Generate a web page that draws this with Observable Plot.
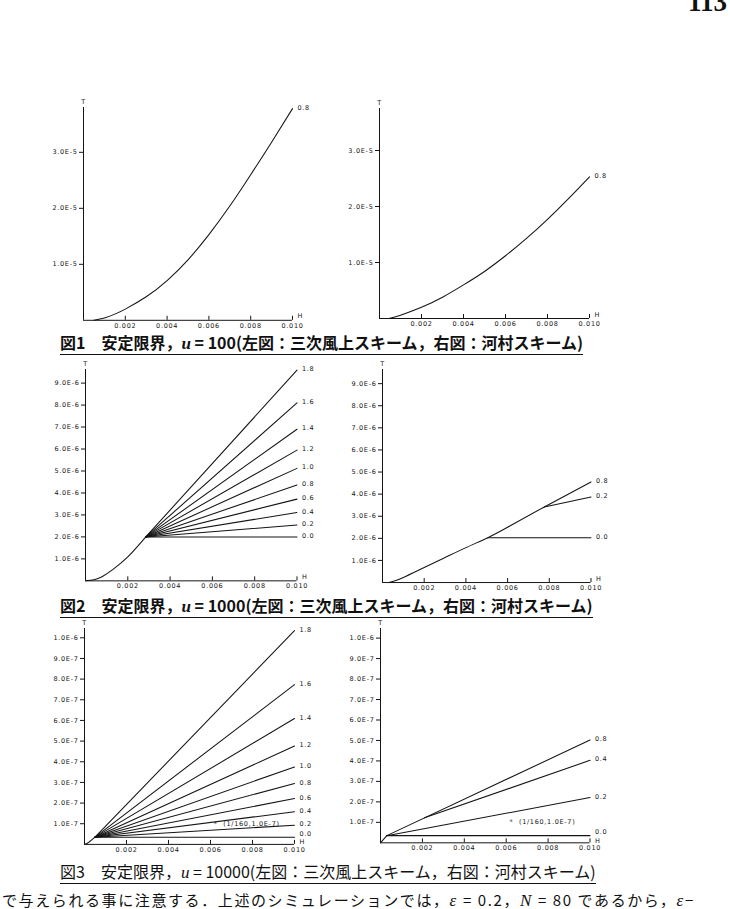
<!DOCTYPE html>
<html>
<head>
<meta charset="utf-8">
<script src="https://cdn.jsdelivr.net/npm/d3@7"></script>
<script src="https://cdn.jsdelivr.net/npm/@observablehq/plot@0.6"></script>
<style>
  html, body { margin: 0; padding: 0; background: #fff; }
  #page { position: relative; width: 730px; height: 909px; overflow: hidden; background: #fff; }
  .cap { position: absolute; left: 60px; white-space: nowrap; font-family: "Noto Sans CJK JP", sans-serif;
         font-size: 16px; line-height: 18px; color: #111; border-bottom: 1.6px solid #111; padding-bottom: 1px; }
  .cap.b { font-weight: 700; }
  .cap i, .body i { font-family: "Liberation Serif", serif; font-style: italic; font-size: 17px; }
  .body { position: absolute; left: 2px; top: 891px; white-space: nowrap; font-family: "Noto Sans CJK JP", sans-serif;
          font-size: 15px; line-height: 18px; color: #111; letter-spacing: 1.6px; }
  .pageno { position: absolute; left: 688px; top: -13px; font-family: "Liberation Serif", serif; font-weight: 700;
            font-size: 27px; line-height: 30px; color: #111; }
</style>
</head>
<body>
<div id="page">
  <div class="pageno">113</div>
  <div class="cap b" id="cap1" style="top:333px">図1　安定限界，<i>u</i> = 100(左図：三次風上スキーム，右図：河村スキーム)</div>
  <div class="cap b" id="cap2" style="top:596px">図2　安定限界，<i>u</i> = 1000(左図：三次風上スキーム，右図：河村スキーム)</div>
  <div class="cap" id="cap3" style="top:862px">図3　安定限界，<i>u</i> = 10000(左図：三次風上スキーム，右図：河村スキーム)</div>
  <div class="body">で与えられる事に注意する．上述のシミュレーションでは，<i>ε</i> = 0.2，<i>N</i> = 80 であるから，<i>ε</i>−</div>
</div>
<script>
// ---- axis ticks ----
const xTicks = [0.002, 0.004, 0.006, 0.008, 0.010];
const xTickLabels = ["0.002", "0.004", "0.006", "0.008", "0.010"];
const yTicksFig1 = [1e-5, 2e-5, 3e-5];
const yTickLabelsFig1 = ["1.0E-5", "2.0E-5", "3.0E-5"];
const yTicksFig2 = [1e-6, 2e-6, 3e-6, 4e-6, 5e-6, 6e-6, 7e-6, 8e-6, 9e-6];
const yTickLabelsFig2 = ["1.0E-6", "2.0E-6", "3.0E-6", "4.0E-6", "5.0E-6", "6.0E-6", "7.0E-6", "8.0E-6", "9.0E-6"];
const yTicksFig3 = [1e-7, 2e-7, 3e-7, 4e-7, 5e-7, 6e-7, 7e-7, 8e-7, 9e-7, 1e-6];
const yTickLabelsFig3 = ["1.0E-7", "2.0E-7", "3.0E-7", "4.0E-7", "5.0E-7", "6.0E-7", "7.0E-7", "8.0E-7", "9.0E-7", "1.0E-6"];

// ---- 図1: u = 100, ε = 0.8 ----
const fig1LeftH  = [0.0005, 0.001, 0.0015, 0.002, 0.003, 0.004, 0.005, 0.006, 0.007, 0.008, 0.009, 0.010];
const fig1LeftT  = [0, 0.04e-5, 0.11e-5, 0.2e-5, 0.42e-5, 0.71e-5, 1.08e-5, 1.53e-5, 2.04e-5, 2.60e-5, 3.18e-5, 3.78e-5];
const fig1RightH = [0.00045, 0.001, 0.002, 0.003, 0.004, 0.005, 0.006, 0.007, 0.008, 0.009, 0.010];
const fig1RightT = [0, 0.06e-5, 0.2e-5, 0.38e-5, 0.6e-5, 0.84e-5, 1.12e-5, 1.43e-5, 1.77e-5, 2.14e-5, 2.53e-5];
const fig1Eps = "0.8";

// ---- 図2: u = 1000 ----
// left: shared curve up to the branch point, then one segment per ε
const fig2LeftBaseH = [0, 0.0004, 0.0008, 0.0013, 0.002, 0.0026, 0.00285];
const fig2LeftBaseT = [0, 0.05e-6, 0.2e-6, 0.52e-6, 1.09e-6, 1.72e-6, 2.0e-6];
const fig2LeftEps   = ["1.8", "1.6", "1.4", "1.2", "1.0", "0.8", "0.6", "0.4", "0.2", "0.0"];
const fig2LeftEndT  = [9.59e-6, 8.10e-6, 6.90e-6, 5.95e-6, 5.12e-6, 4.36e-6, 3.72e-6, 3.11e-6, 2.54e-6, 2.0e-6];
// right: ε = 0.8 curve, with ε = 0.2 and ε = 0.0 leaving it
const fig2RightH = [0.0003, 0.0006, 0.001, 0.002, 0.003, 0.004, 0.00505, 0.006, 0.00776, 0.010];
const fig2RightT = [0, 0.08e-6, 0.23e-6, 0.68e-6, 1.13e-6, 1.58e-6, 2.03e-6, 2.5e-6, 3.42e-6, 4.55e-6];
const fig2RightEps = "0.8";
const fig2RightBranchEps   = ["0.2", "0.0"];
const fig2RightBranchH     = [0.00776, 0.00505];
const fig2RightBranchT     = [3.42e-6, 2.03e-6];
const fig2RightBranchEndT  = [3.87e-6, 2.03e-6];

// ---- 図3: u = 10000 ----
const fig3LeftBaseH = [0, 0.0002, 0.0005];
const fig3LeftBaseT = [0, 0.1e-7, 0.35e-7];
const fig3LeftEps   = ["1.8", "1.6", "1.4", "1.2", "1.0", "0.8", "0.6", "0.4", "0.2", "0.0"];
const fig3LeftEndT  = [10.35e-7, 7.73e-7, 6.09e-7, 4.76e-7, 3.75e-7, 2.95e-7, 2.22e-7, 1.58e-7, 0.93e-7, 0.35e-7];
const fig3RightBaseH  = [0, 0.0003];
const fig3RightBaseT  = [0, 0.35e-7];
const fig3RightEps    = ["0.8", "0.4", "0.2", "0.0"];
const fig3RightStartH = [0.0003, 0.0021, 0.0003, 0.0003];
const fig3RightStartT = [0.35e-7, 1.22e-7, 0.35e-7, 0.35e-7];
const fig3RightEndT   = [5.02e-7, 4.03e-7, 2.21e-7, 0.35e-7];
// marked point
const markH = 0.00625;
const markT = 1.0e-7;
const markText = "(1/160,1.0E-7)";

const H_END = 0.010;
const ink = "#141414";
const page = document.getElementById("page");

const pts = (H, T) => H.map((h, i) => ({h, t: T[i]}));
const fan = (eps, startH, startT, endT) =>
  eps.flatMap((e, i) => [
    {eps: e, h: Array.isArray(startH) ? startH[i] : startH, t: Array.isArray(startT) ? startT[i] : startT},
    {eps: e, h: H_END, t: endT[i]}
  ]);
const ends = (eps, endT) => eps.map((e, i) => ({eps: e, t: endT[i]}));

function drawPanel(cfg) {
  const mL = 44, mR = 30, mT = 12, mB = 16;
  const plotW = cfg.x10 - cfg.ox;
  const plotH = cfg.ymax * cfg.pxPerT;
  const ky = cfg.pxPerT;
  const bold = new Set(cfg.bold || []);
  const svg = Plot.plot({
    width: plotW + mL + mR,
    height: plotH + mT + mB,
    marginLeft: mL, marginRight: mR, marginTop: mT, marginBottom: mB,
    x: {domain: [0, H_END]},
    y: {domain: [0, cfg.ymax]},
    style: "font-family: 'DejaVu Sans', sans-serif; font-size: 6.5px; letter-spacing: 0.7px; color: " + ink +
           "; background: transparent; overflow: visible;",
    marks: [
      Plot.ruleY([0], {x1: 0, x2: H_END, stroke: ink, strokeWidth: 1}),
      Plot.ruleX([0], {y1: 0, y2: cfg.ymax, stroke: ink, strokeWidth: 1}),
      Plot.ruleX(xTicks, {x: d => d, y1: 0, y2: 4 / ky, stroke: ink, strokeWidth: 1}),
      Plot.axisX({ticks: xTicks, tickSize: 0, tickPadding: 3, label: null,
                  tickFormat: d => xTickLabels[xTicks.indexOf(d)]}),
      Plot.axisY({ticks: cfg.yTicks, tickSize: 4, tickPadding: 2, label: null,
                  tickFormat: d => cfg.yLabels[cfg.yTicks.indexOf(d)]}),
      Plot.text(["T"], {x: 0, y: cfg.ymax, text: d => d, dy: -6, fill: ink}),
      Plot.text(["H"], {x: H_END, y: 0, text: d => d, dx: 5, dy: cfg.hDy ?? -4, textAnchor: "start", fill: ink}),
      ...cfg.marks.map(m => m(bold))
    ]
  });
  svg.style.position = "absolute";
  svg.style.left = (cfg.ox - mL) + "px";
  svg.style.top = (cfg.oy - plotH - mT) + "px";
  page.appendChild(svg);
}

const curve = (data) => () => Plot.line(data, {x: "h", y: "t", stroke: ink, strokeWidth: 1.05, curve: "natural"});
const segs = (data) => () => Plot.line(data, {x: "h", y: "t", z: "eps", stroke: ink, strokeWidth: 1.05});
const labels = (data, x, lift = 0) => (bold) => Plot.text(data, {
  x: () => x, y: "t", text: "eps", dx: 5, textAnchor: "start", fill: ink,
  dy: -1 - lift,
  fontWeight: d => bold.has(d.eps) ? "bold" : "normal"
});
const marker = () => Plot.text([markText], {x: markH, y: markT, text: d => "*  " + d, textAnchor: "start", dx: -2, fill: ink});

// 図1 left / right
drawPanel({
  ox: 83, oy: 320, x10: 292, ymax: 3.8e-5, pxPerT: 56 / 1e-5,
  yTicks: yTicksFig1, yLabels: yTickLabelsFig1, bold: [fig1Eps],
  marks: [curve(pts(fig1LeftH, fig1LeftT)),
          labels([{eps: fig1Eps, t: fig1LeftT[fig1LeftT.length - 1]}], H_END)]
});
drawPanel({
  ox: 379, oy: 318, x10: 589, ymax: 3.75e-5, pxPerT: 56 / 1e-5,
  yTicks: yTicksFig1, yLabels: yTickLabelsFig1, bold: [fig1Eps],
  marks: [curve(pts(fig1RightH, fig1RightT)),
          labels([{eps: fig1Eps, t: fig1RightT[fig1RightT.length - 1]}], H_END)]
});

// 図2 left / right
drawPanel({
  ox: 84.5, oy: 580.7, x10: 296, ymax: 9.62e-6, pxPerT: 21.97 / 1e-6,
  yTicks: yTicksFig2, yLabels: yTickLabelsFig2,
  marks: [curve(pts(fig2LeftBaseH, fig2LeftBaseT)),
          segs(fan(fig2LeftEps, fig2LeftBaseH[fig2LeftBaseH.length - 1], fig2LeftBaseT[fig2LeftBaseT.length - 1], fig2LeftEndT)),
          labels(ends(fig2LeftEps, fig2LeftEndT), H_END)]
});
drawPanel({
  ox: 381.5, oy: 582.3, x10: 590, ymax: 9.64e-6, pxPerT: 22.1 / 1e-6,
  yTicks: yTicksFig2, yLabels: yTickLabelsFig2, bold: [fig2RightEps],
  marks: [curve(pts(fig2RightH, fig2RightT)),
          segs(fan(fig2RightBranchEps, fig2RightBranchH, fig2RightBranchT, fig2RightBranchEndT)),
          labels([{eps: fig2RightEps, t: fig2RightT[fig2RightT.length - 1]}, ...ends(fig2RightBranchEps, fig2RightBranchEndT)], H_END)]
});

// 図3 left / right: the lowest label sits just above the H of the axis
drawPanel({
  ox: 84, oy: 844.3, x10: 294, ymax: 1.045e-6, pxPerT: 20.66 / 1e-7, hDy: -2,
  yTicks: yTicksFig3, yLabels: yTickLabelsFig3,
  marks: [curve(pts(fig3LeftBaseH, fig3LeftBaseT)),
          segs(fan(fig3LeftEps, fig3LeftBaseH[fig3LeftBaseH.length - 1], fig3LeftBaseT[fig3LeftBaseT.length - 1], fig3LeftEndT)),
          marker,
          labels(ends(fig3LeftEps.slice(0, -1), fig3LeftEndT.slice(0, -1)), H_END),
          labels(ends(fig3LeftEps.slice(-1), fig3LeftEndT.slice(-1)), H_END, 2.5)]
});
drawPanel({
  ox: 380, oy: 842, x10: 589.5, ymax: 1.047e-6, pxPerT: 20.47 / 1e-7, hDy: -2,
  yTicks: yTicksFig3, yLabels: yTickLabelsFig3, bold: ["0.8"],
  marks: [curve(pts(fig3RightBaseH, fig3RightBaseT)),
          segs(fan(fig3RightEps, fig3RightStartH, fig3RightStartT, fig3RightEndT)),
          marker,
          labels(ends(fig3RightEps.slice(0, -1), fig3RightEndT.slice(0, -1)), H_END),
          labels(ends(fig3RightEps.slice(-1), fig3RightEndT.slice(-1)), H_END, 2.5)]
});
</script>
</body>
</html>
